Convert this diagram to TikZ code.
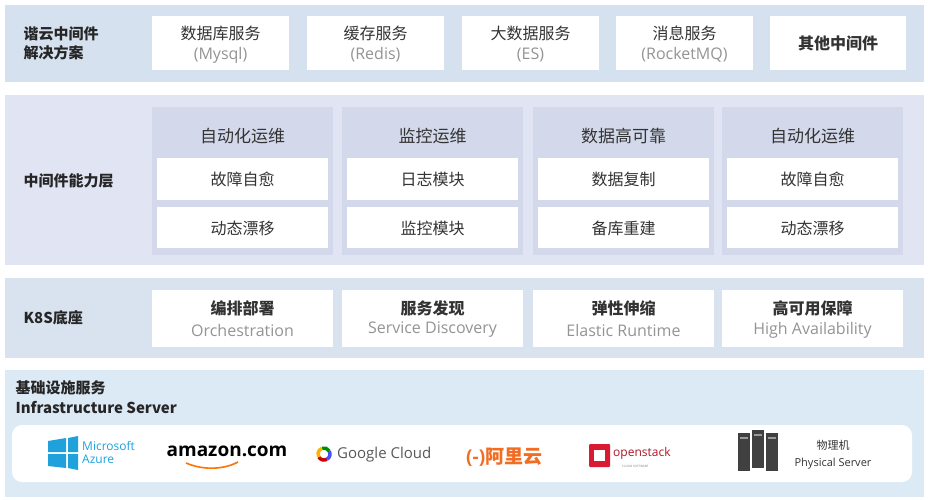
\documentclass[tikz,border=0pt]{standalone}
\usepackage{fontspec}
\setmainfont{Noto Sans CJK SC}
\newfontfamily\lat{Open Sans}
\begin{document}
\begin{tikzpicture}[x=1pt,y=-1pt,
 hd/.style={font=\fontsize{15}{17}\selectfont\bfseries,text=black!85},
 it/.style={font=\fontsize{16}{18}\selectfont,text=black!80,align=center},
 sub/.style={font=\lat\fontsize{16}{18}\selectfont,text=black!42}]
\definecolor{b1}{HTML}{D5E1EE}\definecolor{b2}{HTML}{E1E5F3}
\definecolor{colcol}{HTML}{D3D9EB}\definecolor{b3}{HTML}{D9E3F0}\definecolor{b4}{HTML}{DCEAF6}
\useasboundingbox[fill=white] (0,0) rectangle (928,500);
% band 1
\fill[b1] (5,5) rectangle (924,82);
\node[hd,anchor=west,align=left,font=\fontsize{15}{19}\selectfont\bfseries] (l1) at (20,43) {谐云中间件\\解决方案};
\foreach \x/\a/\b/\n in {152/数据库服务/(Mysql)/s1,307/缓存服务/(Redis)/s2,462/大数据服务/(ES)/s3,616/消息服务/(RocketMQ)/s4}{
 \fill[white] (\x,16) rectangle ++(137,54);
 \node[it] (\n) at (\x+68.5,33) {\a};
 \node[sub] (\n b) at (\x+68.5,55) {\b};}
\fill[white] (770,16) rectangle (906,70);
\node[it,font=\fontsize{16}{18}\selectfont\bfseries] (s5) at (838,43) {其他中间件};
% band 2
\fill[b2] (5,95) rectangle (924,265);
\node[hd,anchor=west] (l2) at (20,181) {中间件能力层};
\foreach \x/\h/\p/\q/\n in {152/自动化运维/故障自愈/动态漂移/c1,342/监控运维/日志模块/监控模块/c2,533/数据高可靠/数据复制/备库重建/c3,722/自动化运维/故障自愈/动态漂移/c4}{
 \fill[colcol] (\x,107) rectangle ++(181,148);
 \node[it,font=\fontsize{17}{19}\selectfont] (\n h) at (\x+90.5,136) {\h};
 \fill[white] (\x+5,158) rectangle ++(171,42);
 \node[it] (\n p) at (\x+90.5,179) {\p};
 \fill[white] (\x+5,207) rectangle ++(171,41);
 \node[it] (\n q) at (\x+90.5,228) {\q};}
% band 3
\fill[b3] (5,278) rectangle (924,358);
\node[hd,anchor=west] (l3) at (20,318) {K8S底座};
\foreach \x/\a/\b/\n in {152/编排部署/Orchestration/k1,342/服务发现/Service Discovery/k2,533/弹性伸缩/Elastic Runtime/k3,722/高可用保障/High Availability/k4}{
 \fill[white] (\x,290) rectangle ++(181,57);
 \node[it,font=\fontsize{16}{18}\selectfont\bfseries] (\n) at (\x+90.5,308) {\a};
 \node[sub] (\n b) at (\x+90.5,330) {\b};}
% band 4
\fill[b4] (5,370) rectangle (924,497);
\node[hd,anchor=west,align=left,font=\fontsize{15}{20}\selectfont\bfseries] (l4) at (12,397) {基础设施服务\\Infrastructure Server};
\fill[white,rounded corners=10pt] (12,425) rectangle (912,482);
% azure
\definecolor{az}{HTML}{1FA2DC}
\fill[az] (48,441) -- (66,438) -- (66,452) -- (48,452) -- cycle;
\fill[az] (68,438) -- (78,436) -- (78,452) -- (68,452) -- cycle;
\fill[az] (48,454) -- (66,454) -- (66,468) -- (48,466) -- cycle;
\fill[az] (68,454) -- (78,454) -- (78,470) -- (68,468) -- cycle;
\node[anchor=west,align=left,text=az,font=\lat\fontsize{12}{13}\selectfont,inner sep=0pt] (az) at (82,452) {Microsoft\\Azure};
% amazon
\node[font=\lat\fontsize{19}{19}\selectfont\bfseries,inner sep=0pt] (am) at (227,451) {amazon.com};
\draw[orange!90!red,line width=1.6pt] (186,463) .. controls (205,471) and (225,469) .. (238,462);
% google cloud
\coordinate (g) at (324,454);
\draw[line width=3.5pt,red!80!black] (g) ++(150:6) arc[start angle=150,end angle=60,radius=6];
\draw[line width=3.5pt,blue!70] (g) ++(60:6) arc[start angle=60,end angle=-30,radius=6];
\draw[line width=3.5pt,green!55!black] (g) ++(-30:6) arc[start angle=-30,end angle=-110,radius=6];
\draw[line width=3.5pt,orange!60!yellow] (g) ++(-110:6) arc[start angle=-110,end angle=-210,radius=6];
\node[anchor=west,font=\lat\fontsize{15}{15}\selectfont,text=black!65,inner sep=0pt] (gc) at (337,455) {Google Cloud};
% aliyun
\definecolor{ali}{HTML}{F26C21}
\node[anchor=west,font=\fontsize{19}{19}\selectfont\bfseries,text=ali,inner sep=0pt] (al) at (466,457) {{\lat(-)}阿里云};
% openstack
\definecolor{os}{HTML}{DA1A32}
\fill[os,rounded corners=1pt] (589,444) rectangle (610,467);
\fill[white] (594,450) rectangle (605,461);
\node[anchor=west,font=\lat\fontsize{12}{12}\selectfont,text=os!80!black,inner sep=0pt] (op) at (613,453) {openstack};
\node[anchor=west,font=\lat\fontsize{3}{3}\selectfont,text=black!50,inner sep=0pt] (op2) at (622,466) {CLOUD SOFTWARE};
% servers
\foreach \x/\t in {738/433,752/430,766/433}{\fill[black!75] (\x,\t) rectangle ++(12,38);\fill[black!40] (\x+2,\t+4) rectangle ++(8,2);}
\node[align=center,font=\fontsize{11}{17}\selectfont,text=black!80] (ps) at (833,455) {物理机\\{\lat Physical Server}};
\end{tikzpicture}
\end{document}
